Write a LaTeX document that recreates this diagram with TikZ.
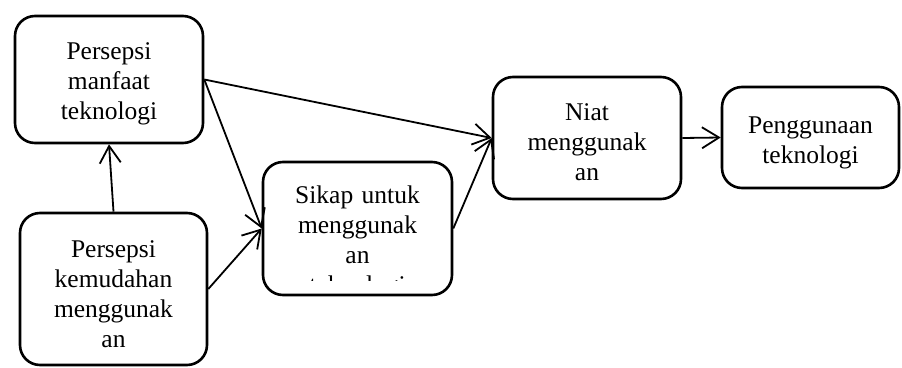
\documentclass[tikz,border=0pt]{standalone}
\usepackage{fontspec}
\setmainfont{Liberation Serif}
\usetikzlibrary{arrows.meta}
\tikzset{
  box/.style={draw, line width=2.6pt, rounded corners=20pt, inner sep=0pt},
  label/.style={align=center, text width=180pt, anchor=base, inner sep=0pt,
                font=\fontsize{25.5}{30.2}\selectfont},
  link/.style={line width=1.8pt, -{Straight Barb[length=17pt, width=21pt, line width=1.8pt]}}
}
\begin{document}
\begin{tikzpicture}[x=1pt, y=-1pt]
  \useasboundingbox (0,0) rectangle (902,367);

  % rounded boxes
  \node[box, minimum width=188pt, minimum height=127pt] (b1) at (109,79.5) {};
  \node[box, minimum width=187pt, minimum height=152pt] (b2) at (113.5,289) {};
  \node[box, minimum width=189pt, minimum height=133pt] (s) at (357.5,228.5) {};
  \node[box, minimum width=188pt, minimum height=122pt] (n) at (587,138) {};
  \node[box, minimum width=177pt, minimum height=101pt] (p) at (810.5,137.5) {};

  % box texts
  \node[label] (t1) at (109,59) {Persepsi\\manfaat\\teknologi};
  \node[label] (t2) at (113.5,257) {Persepsi\\kemudahan\\menggunak\\an};
  \begin{scope}
    % the last line of this box is cut off at its lower edge
    \clip (263,162) rectangle (452,280);
    \node[label] (ts) at (357.5,203) {Sikap untuk\\menggunak\\an\\teknologi};
  \end{scope}
  \node[label] (tn) at (587,120) {Niat\\menggunak\\an};
  \node[label] (tp) at (810.5,133) {Penggunaan\\teknologi};

  % connectors
  \draw[link] (b2.north) -- (b1.south);
  \draw[link] (b1.east) -- (n.west);
  \draw[link] (b1.east) -- (s.west);
  \draw[link] (b2.east) -- (s.west);
  \draw[link] (s.east) -- (n.west);
  \draw[link] (n.east) -- (p.west);
\end{tikzpicture}
\end{document}
